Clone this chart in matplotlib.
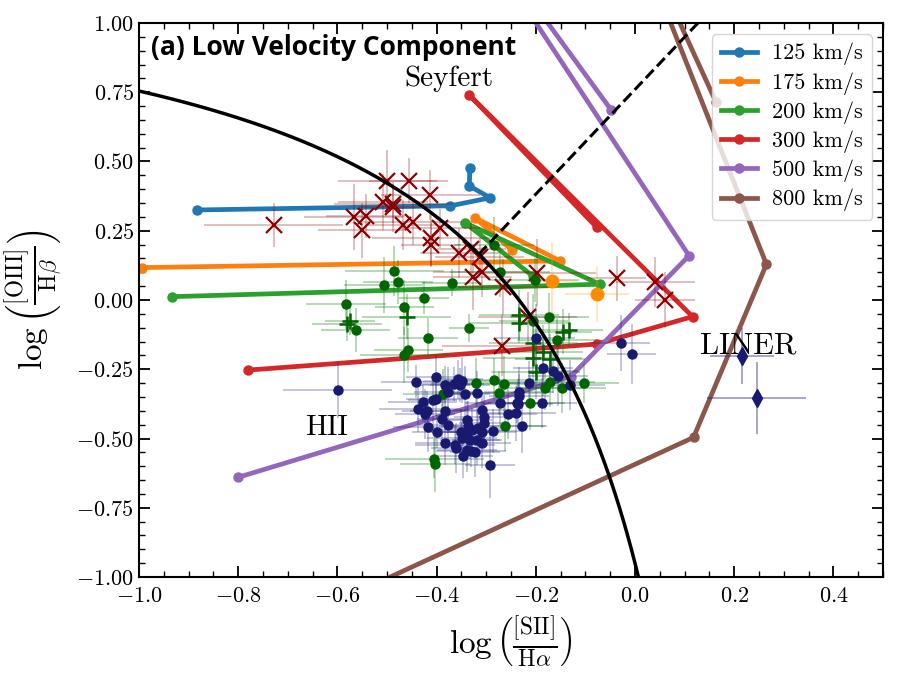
import numpy as np
import matplotlib
matplotlib.use("Agg")
from matplotlib import pyplot as plt
from matplotlib.ticker import MultipleLocator, AutoMinorLocator

plt.rcParams['font.family'] = 'serif'
plt.rcParams['font.serif'] = ['cmr10']
plt.rcParams['mathtext.fontset'] = 'cm'
plt.rcParams['axes.formatter.use_mathtext'] = True

###---------------------------- shock model grids ----------------------------###
model_labels = ['125 km/s', '175 km/s', '200 km/s', '300 km/s', '500 km/s', '800 km/s']
model_colors = ['tab:blue', 'tab:orange', 'tab:green', 'tab:red', 'tab:purple', 'tab:brown']

m125_x = [-0.884, -0.372, -0.292, -0.334, -0.333]
m125_y = [0.325, 0.340, 0.369, 0.412, 0.478]
m175_x = [-0.993, -0.151, -0.323, -0.248]
m175_y = [0.117, 0.141, 0.297, 0.180]
m200_x = [-0.934, -0.071, -0.343, -0.205]
m200_y = [0.012, 0.057, 0.279, 0.085]
m300_x = [-0.780, -0.077, 0.116, -0.334, -0.077]
m300_y = [-0.253, -0.159, -0.060, 0.740, 0.262]
m500_x = [-0.800, -0.130, 0.109, -0.42, -0.048]
m500_y = [-0.640, -0.277, 0.160, 1.60, 0.686]
m800_x = [-0.700, 0.118, 0.265, -0.05, 0.163]
m800_y = [-1.170, -0.496, 0.129, 1.55, 0.716]

###---------------------------- observed points ----------------------------###
# dark red crosses
xr_x = [-0.728, -0.499, -0.456, -0.413, -0.508, -0.487, -0.487, -0.567, -0.543, -0.550,
        -0.468, -0.448, -0.393, -0.411, -0.411, -0.354, -0.330, -0.313, -0.327, -0.308,
        -0.267, -0.198, -0.216, -0.269, -0.037, 0.041, 0.061]
xr_y = [0.271, 0.431, 0.431, 0.380, 0.354, 0.348, 0.336, 0.300, 0.304, 0.251,
        0.271, 0.280, 0.259, 0.223, 0.199, 0.170, 0.185, 0.155, 0.083, 0.100,
        0.047, 0.099, -0.062, -0.165, 0.078, 0.066, 0.000]
xr_xerr = [0.14, 0.10, 0.08, 0.10, 0.09, 0.12, 0.07, 0.10, 0.08, 0.09,
           0.07, 0.10, 0.08, 0.12, 0.06, 0.08, 0.07, 0.09, 0.08, 0.10,
           0.09, 0.12, 0.10, 0.12, 0.06, 0.08, 0.06]
xr_yerr = [0.08, 0.11, 0.08, 0.09, 0.10, 0.07, 0.09, 0.12, 0.08, 0.10,
           0.09, 0.08, 0.07, 0.10, 0.08, 0.09, 0.10, 0.07, 0.12, 0.09,
           0.10, 0.12, 0.09, 0.11, 0.08, 0.09, 0.10]

# green circles
gc_x = [-0.485, -0.507, -0.478, -0.369, -0.425, -0.583, -0.465, -0.563, -0.417, -0.335,
        -0.457, -0.465, -0.284, -0.272, -0.202, -0.173, -0.205, -0.157, -0.321, -0.284,
        -0.264, -0.388, -0.274, -0.212, -0.262, -0.405, -0.403, -0.171, -0.181, -0.148,
        -0.103]
gc_y = [0.105, 0.054, 0.066, 0.063, 0.008, -0.016, -0.027, -0.108, -0.136, -0.102,
        -0.180, -0.199, 0.199, 0.102, 0.072, -0.063, -0.077, -0.145, -0.298, -0.290,
        -0.303, -0.339, -0.336, -0.371, -0.454, -0.573, -0.592, -0.295, -0.317, -0.317,
        -0.301]
gc_xerr = [0.10, 0.08, 0.07, 0.06, 0.05, 0.08, 0.06, 0.07, 0.06, 0.04,
           0.07, 0.09, 0.08, 0.10, 0.09, 0.08, 0.07, 0.08, 0.09, 0.10,
           0.08, 0.08, 0.09, 0.07, 0.08, 0.10, 0.07, 0.09, 0.08, 0.09,
           0.07]
gc_yerr = [0.09, 0.10, 0.08, 0.05, 0.06, 0.09, 0.10, 0.08, 0.07, 0.05,
           0.08, 0.10, 0.10, 0.09, 0.08, 0.09, 0.10, 0.08, 0.09, 0.08,
           0.10, 0.09, 0.08, 0.10, 0.09, 0.07, 0.10, 0.09, 0.08, 0.09,
           0.07]

# green plus signs
gp_x = [-0.581, -0.575, -0.460, -0.234, -0.234, -0.146, -0.134, -0.205, -0.185, -0.206,
        -0.171, -0.200]
gp_y = [-0.088, -0.075, -0.060, -0.054, -0.084, -0.114, -0.108, -0.157, -0.189, -0.210,
        -0.212, -0.259]
gp_xerr = [0.07, 0.05, 0.09, 0.08, 0.10, 0.06, 0.07, 0.09, 0.08, 0.10,
           0.07, 0.09]
gp_yerr = [0.06, 0.05, 0.08, 0.09, 0.07, 0.08, 0.06, 0.09, 0.10, 0.08,
           0.09, 0.10]

# navy circles
nc_x = [-0.599, -0.442, -0.401, -0.383, -0.376, -0.365, -0.356, -0.348, -0.353, -0.343,
        -0.319, -0.428, -0.408, -0.401, -0.437, -0.420, -0.423, -0.384, -0.390, -0.376,
        -0.417, -0.399, -0.384, -0.363, -0.361, -0.351, -0.349, -0.339, -0.336, -0.338,
        -0.329, -0.333, -0.319, -0.339, -0.331, -0.323, -0.346, -0.317, -0.309, -0.304,
        -0.304, -0.309, -0.309, -0.287, -0.292, -0.272, -0.257, -0.240, -0.237, -0.234,
        -0.234, -0.227, -0.187, -0.185, -0.165, -0.155, -0.131, -0.200, -0.029, -0.007,
        -0.214, -0.235]
nc_y = [-0.325, -0.295, -0.279, -0.307, -0.331, -0.303, -0.286, -0.291, -0.307, -0.339,
        -0.335, -0.369, -0.361, -0.359, -0.395, -0.400, -0.412, -0.400, -0.431, -0.451,
        -0.457, -0.475, -0.515, -0.523, -0.535, -0.475, -0.499, -0.433, -0.455, -0.475,
        -0.469, -0.505, -0.505, -0.541, -0.544, -0.548, -0.563, -0.463, -0.397, -0.423,
        -0.445, -0.515, -0.475, -0.473, -0.596, -0.371, -0.412, -0.409, -0.373, -0.331,
        -0.347, -0.454, -0.373, -0.247, -0.257, -0.274, -0.307, -0.136, -0.155, -0.195,
        -0.301, -0.375]
nc_xerr = [0.11, 0.07, 0.06, 0.05, 0.07, 0.06, 0.05, 0.08, 0.06, 0.05,
           0.06, 0.07, 0.05, 0.06, 0.08, 0.05, 0.06, 0.07, 0.05, 0.06,
           0.07, 0.05, 0.06, 0.08, 0.05, 0.06, 0.07, 0.05, 0.06, 0.05,
           0.07, 0.06, 0.05, 0.06, 0.07, 0.05, 0.06, 0.05, 0.07, 0.06,
           0.05, 0.06, 0.07, 0.06, 0.05, 0.07, 0.06, 0.08, 0.06, 0.07,
           0.06, 0.05, 0.07, 0.06, 0.05, 0.06, 0.07, 0.08, 0.06, 0.05,
           0.06, 0.07]
nc_yerr = [0.10, 0.06, 0.08, 0.07, 0.09, 0.06, 0.07, 0.08, 0.06, 0.10,
           0.08, 0.07, 0.09, 0.06, 0.08, 0.07, 0.09, 0.06, 0.08, 0.07,
           0.09, 0.06, 0.08, 0.07, 0.09, 0.08, 0.06, 0.07, 0.09, 0.06,
           0.08, 0.07, 0.09, 0.08, 0.06, 0.09, 0.08, 0.07, 0.06, 0.08,
           0.07, 0.09, 0.06, 0.08, 0.12, 0.08, 0.09, 0.10, 0.07, 0.09,
           0.08, 0.10, 0.09, 0.10, 0.08, 0.11, 0.09, 0.12, 0.10, 0.11,
           0.08, 0.09]

# navy diamonds
nd_x = [0.216, 0.245]
nd_y = [-0.202, -0.355]
nd_xerr = [0.065, 0.10]
nd_yerr = [0.10, 0.13]

# orange circles
oc_x = [-0.167, -0.077]
oc_y = [0.069, 0.022]
oc_xerr = [0.05, 0.065]
oc_yerr = [0.14, 0.10]

###---------------------------- plotting ----------------------------###
fig = plt.figure(figsize=(8.99, 6.84), dpi=100)
ax = fig.add_axes([0.1546, 0.1564, 0.8276, 0.81])

models = [(m125_x, m125_y), (m175_x, m175_y), (m200_x, m200_y),
          (m300_x, m300_y), (m500_x, m500_y), (m800_x, m800_y)]
for (mx, my), c, lab in zip(models, model_colors, model_labels):
    ax.plot(mx, my, '-o', color=c, lw=3.4, ms=6.5, label=lab, zorder=2)

ax.errorbar(xr_x, xr_y, xerr=xr_xerr, yerr=xr_yerr, fmt='x', color='darkred',
            ms=11, mew=1.6, ecolor=(0.55, 0.0, 0.0, 0.3), elinewidth=1.2, zorder=3)
ax.errorbar(gc_x, gc_y, xerr=gc_xerr, yerr=gc_yerr, fmt='o', color='darkgreen',
            ms=6.5, ecolor=(0.0, 0.5, 0.0, 0.35), elinewidth=1.2, zorder=3)
ax.errorbar(gp_x, gp_y, xerr=gp_xerr, yerr=gp_yerr, fmt='+', color='darkgreen',
            ms=12, mew=1.8, ecolor=(0.0, 0.5, 0.0, 0.35), elinewidth=1.2, zorder=3)
ax.errorbar(nc_x, nc_y, xerr=nc_xerr, yerr=nc_yerr, fmt='o', color='midnightblue',
            ms=6.5, ecolor=(0.1, 0.1, 0.5, 0.3), elinewidth=1.2, zorder=3)
ax.errorbar(nd_x, nd_y, xerr=nd_xerr, yerr=nd_yerr, fmt='d', color='midnightblue',
            ms=9, ecolor=(0.1, 0.1, 0.5, 0.45), elinewidth=1.2, zorder=3)
ax.errorbar(oc_x, oc_y, xerr=oc_xerr, yerr=oc_yerr, fmt='o', color='darkorange',
            ms=9, ecolor=(1.0, 0.6, 0.1, 0.3), elinewidth=1.2, zorder=3)

# Kewley et al. (2006) demarcation lines
xk = np.linspace(-1.0, 0.05, 400)
ax.plot(xk, 0.72 / (xk - 0.32) + 1.30, color='k', lw=2.5, zorder=5)
xs = np.linspace(-0.315, 0.2, 50)
ax.plot(xs, 1.89 * xs + 0.76, 'k--', lw=2.2, zorder=5)

ax.text(-0.375, 0.80, 'Seyfert', fontsize=21, ha='center', va='center')
ax.text(0.228, -0.165, 'LINER', fontsize=22, ha='center', va='center')
ax.text(-0.621, -0.46, 'HII', fontsize=21, ha='center', va='center')
ax.text(-0.975, 0.913, '(a) Low Velocity Component', fontsize=19, fontweight='bold',
        family='Open Sans', ha='left', va='center')

ax.set_xlim(-1.0, 0.5)
ax.set_ylim(-1.0, 1.0)
ax.xaxis.set_major_locator(MultipleLocator(0.2))
ax.yaxis.set_major_locator(MultipleLocator(0.25))
ax.xaxis.set_minor_locator(AutoMinorLocator())
ax.yaxis.set_minor_locator(AutoMinorLocator())
ax.tick_params(which='both', direction='in', top=True, right=True, labelsize=16)
ax.tick_params(which='major', length=8, width=1.3)
ax.tick_params(which='minor', length=4, width=1.0)
ax.tick_params(axis='x', which='major', pad=7)
ax.xaxis.set_major_formatter(plt.FuncFormatter(lambda v, p: '$%.1f$' % v))
ax.yaxis.set_major_formatter(plt.FuncFormatter(lambda v, p: '$%.2f$' % v))
for s in ax.spines.values():
    s.set_linewidth(1.5)

ax.set_xlabel(r'$\log\left(\frac{\rm [SII]}{\rm H\alpha}\right)$', fontsize=24, labelpad=6)
ax.set_ylabel(r'$\log\left(\frac{\rm [OIII]}{\rm H\beta}\right)$', fontsize=24, labelpad=8)

ax.legend(loc='upper right', fontsize=16, handlelength=1.6, borderpad=0.4,
          labelspacing=0.3, handletextpad=0.7)

plt.savefig('out.png', dpi=100)
